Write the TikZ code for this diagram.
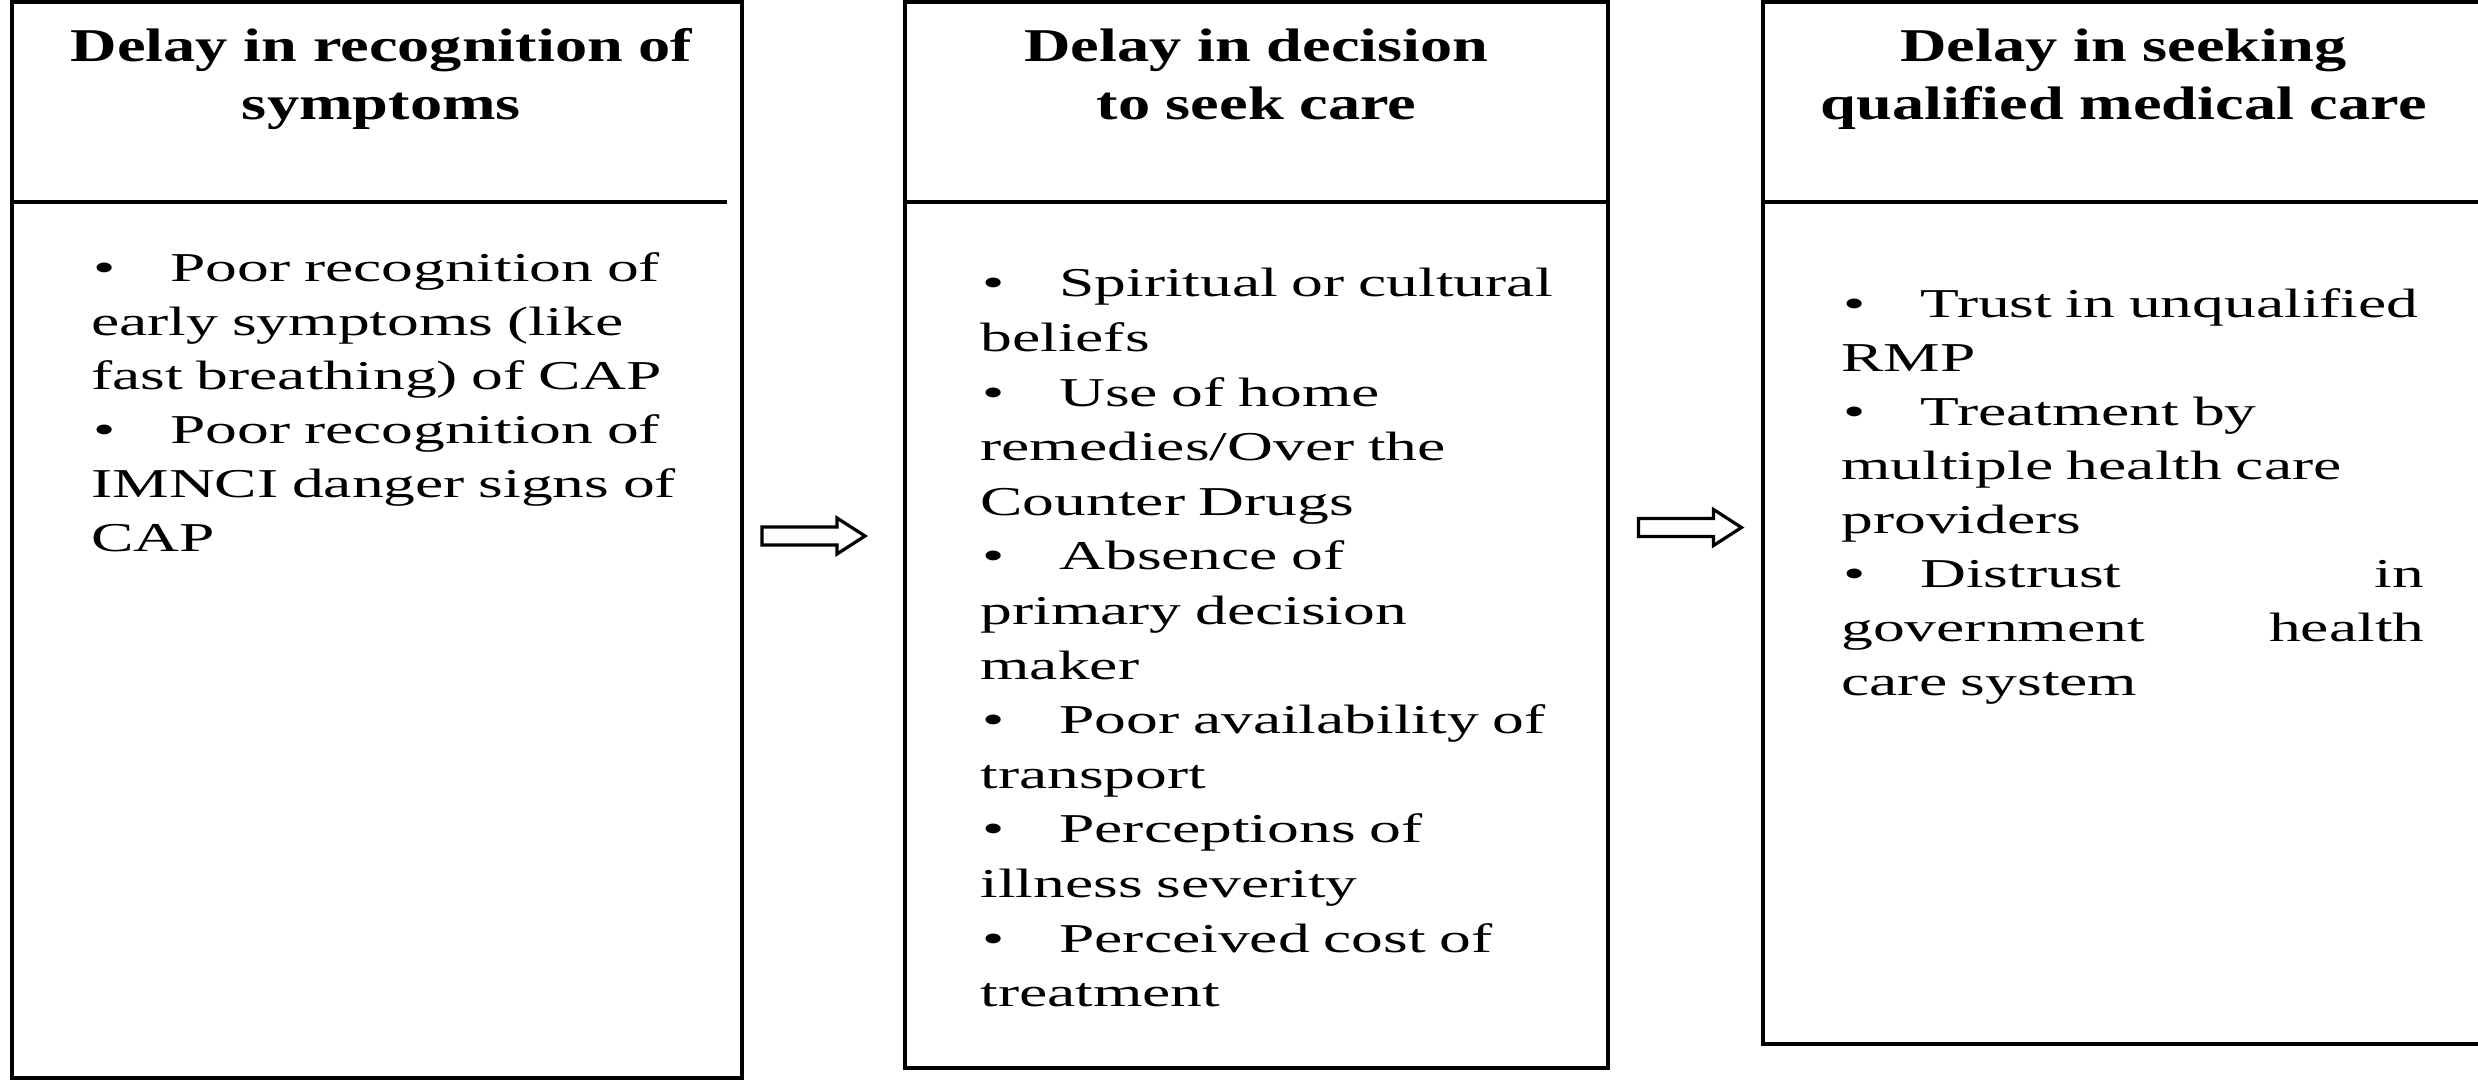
\documentclass[tikz,border=0pt]{standalone}
\usepackage{fontspec}
\setmainfont{Liberation Serif}[FakeStretch=1.37]
\newfontfamily\bodyfont{Liberation Serif}[FakeStretch=1.55]
\usetikzlibrary{calc}
\newcommand\bul{\makebox[39.5pt][l]{\hspace*{1pt}\textbullet}}
\begin{document}
\begin{tikzpicture}[x=0.5pt,y=-0.5pt,
  box/.style={draw=black, line width=2.2pt, inner sep=0pt, outer sep=0pt},
  divider/.style={draw=black, line width=1.8pt},
  hdr/.style={font=\fontsize{23.5}{29}\selectfont\bfseries, align=center, anchor=base, inner sep=0pt, text width=345pt},
  body/.style={align=left, anchor=base west, inner sep=0pt, text width=335pt},
  arrowline/.style={draw=black, line width=1.6pt, fill=white, line join=miter},
  blockarrow/.pic={\path[arrowline] (-51.5,-9) -- (23.5,-9) -- (23.5,-18) -- (51.5,0) -- (23.5,18) -- (23.5,9) -- (-51.5,9) -- cycle;}
]
\useasboundingbox (0,0) rectangle (2478,1080);
\clip (0,0) rectangle (2478,1080);
\fill[white] (0,0) rectangle (2478,1080);

% boxes
\node[box, minimum width=365pt, minimum height=538.25pt] (b1) at (377,539.75) {};
\node[box, minimum width=351.5pt, minimum height=533.25pt] (b2) at (1256.5,534.75) {};
\node[box, minimum width=363.5pt, minimum height=521.25pt] (b3) at (2126.5,522.75) {};

% header dividers
\draw[divider] ($(b1.north west)+(0,200.5)$) -- ($(b1.north east)+(-15,200.5)$);
\draw[divider] ($(b2.north west)+(0,200.5)$) -- ($(b2.north east)+(0,200.5)$);
\draw[divider] ($(b3.north west)+(0,200.5)$) -- ($(b3.north east)+(0,200.5)$);

% headers
\node[hdr] (h1) at (381.5,62) {Delay in recognition of\\symptoms};
\node[hdr] (h2) at (1256.5,62) {Delay in decision\\to seek care};
\node[hdr] (h3) at (2123.5,62) {Delay in seeking\\qualified medical care};

% bodies
\node[body, font=\fontsize{20.5}{27}\selectfont\bodyfont] (t1) at (91,282) {%
\bul Poor recognition of\\
early symptoms (like\\
fast breathing) of CAP\\
\bul Poor recognition of\\
IMNCI danger signs of\\
CAP};

\node[body, font=\fontsize{20.5}{27.3}\selectfont\bodyfont] (t2) at (980,297) {%
\bul Spiritual or cultural\\
beliefs\\
\bul Use of home\\
remedies/Over the\\
Counter Drugs\\
\bul Absence of\\
primary decision\\
maker\\
\bul Poor availability of\\
transport\\
\bul Perceptions of\\
illness severity\\
\bul Perceived cost of\\
treatment};

\node[body, font=\fontsize{20.5}{27}\selectfont\bodyfont] (t3) at (1841,318) {%
\bul Trust in unqualified\\
RMP\\
\bul Treatment by\\
multiple health care\\
providers\\
\makebox[291.5pt][l]{\bul Distrust\hfill in}\\
\makebox[291.5pt][l]{government\hfill health}\\
care system};

% block arrows between boxes
\pic (arr1) at ($(b1.east)!0.5!(b2.west)+(-10,-1.25)$) {blockarrow};
\pic (arr2) at ($(b2.east)!0.5!(b3.west)+(4.5,-1.25)$) {blockarrow};
\end{tikzpicture}
\end{document}
